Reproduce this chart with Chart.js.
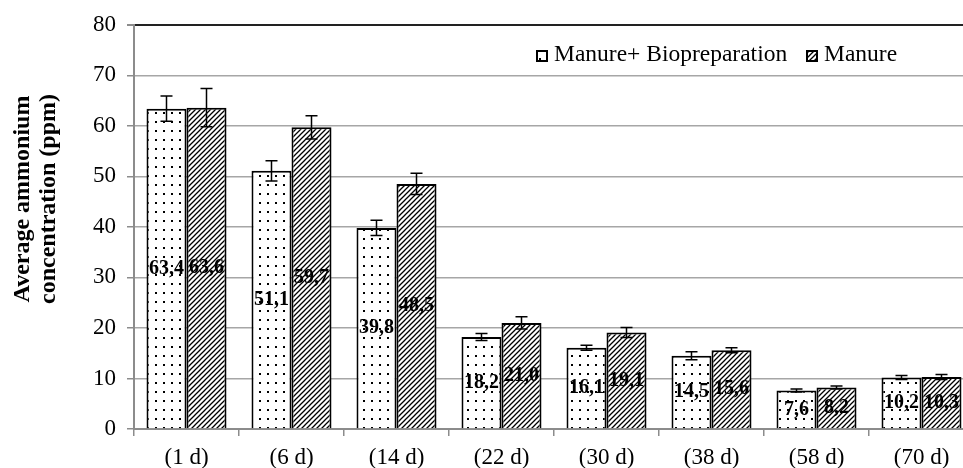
<!DOCTYPE html>
<html>
<head>
<meta charset="utf-8">
<script src="https://cdn.jsdelivr.net/npm/chart.js@4.4.1/dist/chart.umd.min.js"></script>
<style>
  html, body { margin: 0; padding: 0; background: #fff; overflow: hidden; }
  #wrap { width: 974px; height: 468px; }
</style>
</head>
<body>
<div id="wrap"><canvas id="chart" width="974" height="468"></canvas></div>
<script>
// Chart data
const days = ['(1 d)', '(6 d)', '(14 d)', '(22 d)', '(30 d)', '(38 d)', '(58 d)', '(70 d)'];
const bioValues = [63.4, 51.1, 39.8, 18.2, 16.1, 14.5, 7.6, 10.2];
const manureValues = [63.6, 59.7, 48.5, 21.0, 19.1, 15.6, 8.2, 10.3];
const bioErrors = [2.5, 2.0, 1.5, 0.7, 0.5, 0.8, 0.3, 0.4];
const manureErrors = [3.8, 2.3, 2.1, 1.2, 1.0, 0.5, 0.3, 0.5];
const yTicks = [0, 10, 20, 30, 40, 50, 60, 70, 80];
const yTitle = ['Average ammonium', 'concentration (ppm)'];

const serif = '"Liberation Serif", "Times New Roman", serif';

// Fill patterns
function dotPattern() {
  const c = document.createElement('canvas');
  c.width = 8; c.height = 9;
  const g = c.getContext('2d');
  g.fillStyle = '#fff';
  g.fillRect(0, 0, 8, 9);
  g.fillStyle = '#000';
  g.fillRect(3, 4, 2, 2);
  return g.createPattern(c, 'repeat');
}

function hatchPattern() {
  const s = 5;
  const c = document.createElement('canvas');
  c.width = s; c.height = s;
  const g = c.getContext('2d');
  g.fillStyle = '#fff';
  g.fillRect(0, 0, s, s);
  g.strokeStyle = '#000';
  g.lineWidth = 1.3;
  g.beginPath();
  g.moveTo(-1, s + 1); g.lineTo(s + 1, -1);
  g.moveTo(-1, 1); g.lineTo(1, -1);
  g.moveTo(s - 1, s + 1); g.lineTo(s + 1, s - 1);
  g.stroke();
  return g.createPattern(c, 'repeat');
}

const bioFill = dotPattern();
const manureFill = hatchPattern();

const fmt = v => v.toFixed(1).replace('.', ',');

// Error bars, value labels, legend and axis title
const extrasPlugin = {
  id: 'extras',
  afterDatasetsDraw(chart) {
    const ctx = chart.ctx;
    const y = chart.scales.y;
    const errs = [bioErrors, manureErrors];
    chart.data.datasets.forEach((ds, di) => {
      const meta = chart.getDatasetMeta(di);
      meta.data.forEach((bar, i) => {
        const v = ds.data[i];
        const e = errs[di][i];
        const top = y.getPixelForValue(v + e);
        const bot = y.getPixelForValue(v - e);
        ctx.save();
        ctx.strokeStyle = '#000';
        ctx.lineWidth = 1.5;
        ctx.beginPath();
        ctx.moveTo(bar.x, top); ctx.lineTo(bar.x, bot);
        ctx.moveTo(bar.x - 6, top); ctx.lineTo(bar.x + 6, top);
        ctx.moveTo(bar.x - 6, bot); ctx.lineTo(bar.x + 6, bot);
        ctx.stroke();
        // value label
        ctx.fillStyle = '#000';
        ctx.font = 'bold 20px ' + serif;
        ctx.textAlign = 'center';
        ctx.textBaseline = 'middle';
        ctx.fillText(fmt(v), bar.x, (bar.y + bar.base) / 2);
        ctx.restore();
      });
    });

    // legend
    const items = [
      { label: chart.data.datasets[0].label, fill: bioFill, x: 537 },
      { label: chart.data.datasets[1].label, fill: manureFill, x: 807 }
    ];
    ctx.save();
    ctx.font = '23.5px ' + serif;
    ctx.textBaseline = 'alphabetic';
    ctx.textAlign = 'left';
    items.forEach(it => {
      ctx.fillStyle = it.fill;
      ctx.fillRect(it.x, 51, 10, 10);
      ctx.strokeStyle = '#000';
      ctx.lineWidth = 2;
      ctx.strokeRect(it.x, 51, 10, 10);
      ctx.fillStyle = '#000';
      ctx.fillText(it.label, it.x + 17, 61);
    });
    ctx.restore();

    // y axis title
    ctx.save();
    ctx.translate(0, 199);
    ctx.rotate(-Math.PI / 2);
    ctx.font = 'bold 24px ' + serif;
    ctx.fillStyle = '#000';
    ctx.textAlign = 'center';
    ctx.textBaseline = 'middle';
    ctx.fillText(yTitle[0], 0, 23);
    ctx.fillText(yTitle[1], 0, 49);
    ctx.restore();
  }
};

new Chart(document.getElementById('chart'), {
  type: 'bar',
  data: {
    labels: days,
    datasets: [{
      label: 'Manure+ Biopreparation',
      data: bioValues,
      backgroundColor: bioFill,
      borderColor: '#000',
      borderWidth: 2,
      barPercentage: 1,
      categoryPercentage: 0.762
    }, {
      label: 'Manure',
      data: manureValues,
      backgroundColor: manureFill,
      borderColor: '#000',
      borderWidth: 2,
      barPercentage: 1,
      categoryPercentage: 0.762
    }]
  },
  options: {
    responsive: false,
    animation: false,
    devicePixelRatio: 1,
    layout: { padding: { top: 20, left: 0, right: 0, bottom: 0 } },
    plugins: {
      legend: { display: false },
      tooltip: { enabled: false }
    },
    scales: {
      x: {
        grid: {
          offset: true,
          drawOnChartArea: false,
          drawTicks: true,
          tickLength: 7,
          color: '#8c8c8c',
          lineWidth: 1.5
        },
        border: { color: '#8c8c8c', width: 2 },
        ticks: {
          color: '#000',
          font: { family: serif, size: 23 },
          padding: 8,
          maxRotation: 0
        },
        afterFit(scale) { scale.height = 39; }
      },
      y: {
        min: 0,
        max: 80,
        afterBuildTicks(scale) { scale.ticks = yTicks.map(v => ({ value: v })); },
        grid: {
          color: c => c.tick && c.tick.value === 80 ? '#222' : '#a6a6a6',
          lineWidth: c => c.tick && c.tick.value === 80 ? 2 : 1.5,
          tickLength: 7,
          tickColor: '#8c8c8c'
        },
        border: { color: '#8c8c8c', width: 2 },
        ticks: {
          color: '#000',
          font: { family: serif, size: 23 },
          padding: 11
        },
        afterFit(scale) { scale.width = 134; }
      }
    }
  },
  plugins: [extrasPlugin]
});
</script>
</body>
</html>
